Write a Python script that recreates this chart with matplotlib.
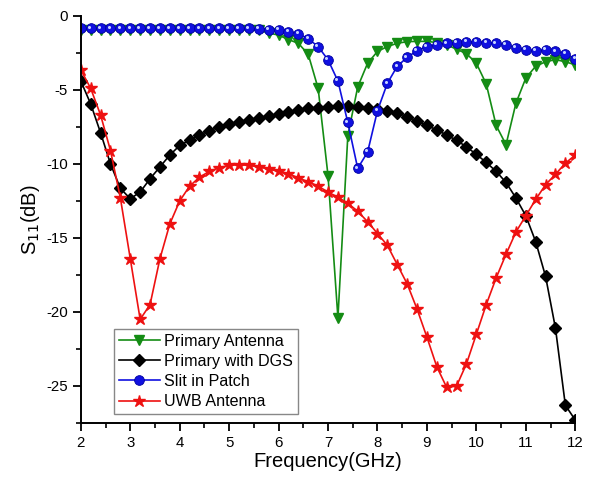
import numpy as np
import matplotlib
matplotlib.use("Agg")
import matplotlib.pyplot as plt
from matplotlib.transforms import offset_copy

plt.rcParams['font.family'] = ['Liberation Sans', 'DejaVu Sans']
plt.rcParams['axes.unicode_minus'] = False

# frequency grid, 0.2 GHz step
freq = np.round(np.arange(2.0, 12.01, 0.2), 1)

primary = [-0.95, -0.95, -0.95, -0.95, -0.95, -0.95, -0.95, -0.95, -0.95, -0.95,
           -0.95, -0.95, -0.95, -0.95, -0.95, -0.95, -0.95, -0.95, -0.98, -1.15,
           -1.3, -1.6, -1.85, -2.6, -4.9, -10.8, -20.4, -8.1, -4.8, -3.2,
           -2.4, -2.07, -1.85, -1.74, -1.72, -1.72, -1.8, -1.95, -2.25, -2.55,
           -3.2, -4.6, -7.4, -8.7, -5.9, -4.2, -3.4, -3.1, -2.95, -3.1, -3.3]

dgs = [-4.4, -5.95, -7.9, -10.0, -11.65, -12.35, -11.9, -11.0, -10.2, -9.4,
       -8.75, -8.4, -8.05, -7.75, -7.5, -7.3, -7.15, -7.0, -6.9, -6.75,
       -6.65, -6.5, -6.35, -6.25, -6.2, -6.15, -6.1, -6.1, -6.15, -6.2,
       -6.3, -6.4, -6.55, -6.8, -7.1, -7.4, -7.7, -8.05, -8.4, -8.85,
       -9.35, -9.9, -10.5, -11.25, -12.3, -13.5, -15.25, -17.6, -21.1, -26.3, -27.3]

slit = [-0.85, -0.85, -0.85, -0.85, -0.85, -0.85, -0.85, -0.85, -0.85, -0.85,
        -0.85, -0.85, -0.85, -0.85, -0.85, -0.85, -0.85, -0.85, -0.87, -0.92,
        -0.95, -1.06, -1.2, -1.55, -2.07, -2.97, -4.4, -7.2, -10.3, -9.2,
        -6.4, -4.55, -3.4, -2.8, -2.35, -2.07, -1.96, -1.85, -1.8, -1.76,
        -1.76, -1.8, -1.85, -1.96, -2.15, -2.3, -2.35, -2.3, -2.4, -2.55, -2.9]

uwb = [-3.65, -4.9, -6.7, -9.1, -12.3, -16.4, -20.5, -19.5, -16.4, -14.05,
       -12.5, -11.5, -10.9, -10.5, -10.25, -10.1, -10.05, -10.1, -10.2, -10.35,
       -10.5, -10.65, -10.95, -11.2, -11.5, -11.9, -12.25, -12.65, -13.2, -13.9,
       -14.7, -15.5, -16.8, -18.1, -19.8, -21.7, -23.7, -25.1, -25.0, -23.5,
       -21.5, -19.5, -17.7, -16.1, -14.6, -13.5, -12.4, -11.4, -10.7, -9.95, -9.4]

fig = plt.figure(figsize=(5.9, 4.82), dpi=100)
ax = fig.add_axes([0.137, 0.1224, 0.838, 0.8446])

l1, = ax.plot(freq, primary, color='#148c14', lw=1.2, marker='v', ms=7,
              label='Primary Antenna')
l2, = ax.plot(freq, dgs, color='black', lw=1.2, marker='D', ms=6,
              label='Primary with DGS')
l3, = ax.plot(freq, slit, color='#1010e0', lw=1.2, marker='o', ms=7,
              mec='#0000a0', mew=0.6, label='Slit in Patch')
# small highlight on the blue balls
shine = offset_copy(ax.transData, fig=fig, x=-1.2, y=1.2, units='points')
ax.plot(freq, slit, ls='none', marker='o', ms=2.2, color='#c8d4ff',
        mec='none', transform=shine)
l4, = ax.plot(freq, uwb, color='#ee1111', lw=1.2, marker='*', ms=9,
              label='UWB Antenna')

ax.set_xlim(2, 12)
ax.set_ylim(-27.5, 0)
ax.set_xticks(np.arange(2, 13, 1))
ax.set_xticks(np.arange(2.5, 12, 1), minor=True)
ax.set_yticks([0, -5, -10, -15, -20, -25])
ax.set_yticks([-2.5, -7.5, -12.5, -17.5, -22.5, -27.5], minor=True)

for s in ['top', 'right']:
    ax.spines[s].set_visible(False)
for s in ['left', 'bottom']:
    ax.spines[s].set_linewidth(1.4)

ax.tick_params(which='major', direction='out', length=6, width=1.3,
               labelsize=10.8)
ax.tick_params(which='minor', direction='out', length=3.5, width=1.2)

ax.set_xlabel('Frequency(GHz)', fontsize=14.5, labelpad=1)
ax.set_ylabel('S$_{11}$(dB)', fontsize=14.5, labelpad=3)

leg = ax.legend(handles=[l1, l2, l3, l4], loc='lower left',
                bbox_to_anchor=(0.068, 0.022), fontsize=11.6, fancybox=False,
                framealpha=1, edgecolor='#888888', handlelength=2.5,
                handletextpad=0.3, borderpad=0.3, labelspacing=0.32,
                borderaxespad=0)
leg.get_frame().set_linewidth(1.0)

fig.savefig('out.png', dpi=100)
